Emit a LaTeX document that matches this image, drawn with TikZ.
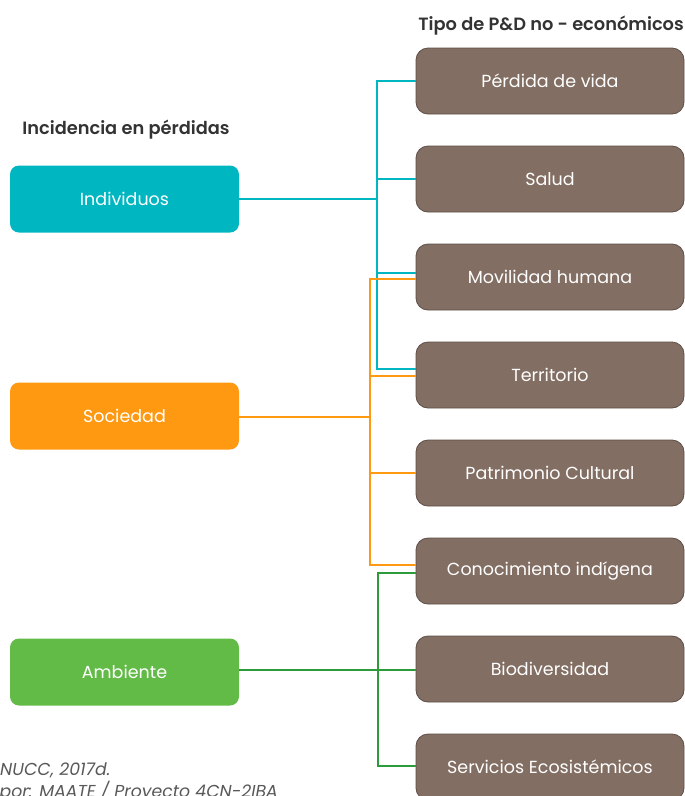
\documentclass[tikz,border=0pt]{standalone}
\usepackage{fontspec}
\setmainfont{Poppins}[BoldFont={Poppins SemiBold}]
\usepackage{xcolor}
\usepackage{tikz}
\usetikzlibrary{positioning}

\definecolor{cian}{HTML}{00B6C1}
\definecolor{naranja}{HTML}{FF9912}
\definecolor{verde}{HTML}{62BB46}
\definecolor{verdeosc}{HTML}{2E9B3B}
\definecolor{cafe}{HTML}{826E63}
\definecolor{cafeosc}{HTML}{5E4E45}
\definecolor{titulo}{HTML}{333333}

\begin{document}
\begin{tikzpicture}[
      x=1pt, y=-1pt,
      incid/.style={rounded corners=9pt, minimum width=229pt, minimum height=67pt,
        text=white, font=\fontsize{17.5}{20}\selectfont, inner sep=0pt},
      tipo/.style={rounded corners=12pt, fill=cafe, draw=cafeosc, line width=0.8pt,
        minimum width=268pt, minimum height=66pt, text=white,
        font=\fontsize{17.5}{20}\selectfont, inner sep=0pt},
      head/.style={font=\bfseries\fontsize{17.8}{20}\selectfont, text=titulo, inner sep=0pt},
      nota/.style={font=\itshape\fontsize{17.3}{20}\selectfont, text=black!65, inner sep=0pt},
      lin/.style={line width=1.3pt}
    ]
    % Marco
    \useasboundingbox (0,0) rectangle (685,796);
    \clip (0,0) rectangle (685,796);

    % Encabezados
    \node[head, anchor=base] (hinc) at (126,134) {Incidencia en pérdidas};
    \node[head, anchor=base east] (htipo) at (684,30) {Tipo de P\&D no - económicos};

    % Tipos de pérdida
    \foreach \lbl [count=\i] in {Pérdida de vida, Salud, Movilidad humana, Territorio,
        Patrimonio Cultural, Conocimiento indígena, Biodiversidad, Servicios Ecosistémicos}
      \node[tipo] (t\i) at (550,{-17+98*\i}) {\lbl};

    % Incidencia
    \node[incid, fill=cian] (ind) at (124.5,199) {Individuos};
    \node[incid, fill=naranja] (soc) at (124.5,416) {Sociedad};
    \node[incid, fill=verde] (amb) at (124.5,672) {Ambiente};

    % Conectores: individuos
    \coordinate (bi) at (377,199);
    \draw[lin, cian] (ind.east |- bi) -- (bi);
    \draw[lin, cian] (bi) |- (t1.west);
    \draw[lin, cian] (bi) |- (t2.west);
    \draw[lin, cian] (bi) |- ([yshift=4pt]t3.west);
    \draw[lin, cian] (bi) |- ([yshift=6pt]t4.west);

    % Conectores: sociedad
    \coordinate (bs) at (370,417);
    \draw[lin, naranja] (soc.east |- bs) -- (bs);
    \draw[lin, naranja] (bs) |- ([yshift=-2pt]t3.west);
    \draw[lin, naranja] (bs) |- ([yshift=-1pt]t4.west);
    \draw[lin, naranja] (bs) |- (t5.west);
    \draw[lin, naranja] (bs) |- ([yshift=6pt]t6.west);

    % Conectores: ambiente
    \coordinate (ba) at (378,670);
    \draw[lin, verdeosc] (amb.east |- ba) -- (ba);
    \draw[lin, verdeosc] (ba) |- ([yshift=-2pt]t6.west);
    \draw[lin, verdeosc] (ba) -- (t7.west |- ba);
    \draw[lin, verdeosc] (ba) |- ([yshift=1pt]t8.west);

    % Nota al pie
    \node[nota, anchor=base west] (fuente) at (0,775) {NUCC, 2017d.};
    \node[nota, anchor=base east] (elab) at (278,797) {por: MAATE / Proyecto 4CN-2IBA};
  \end{tikzpicture}
\end{document}
